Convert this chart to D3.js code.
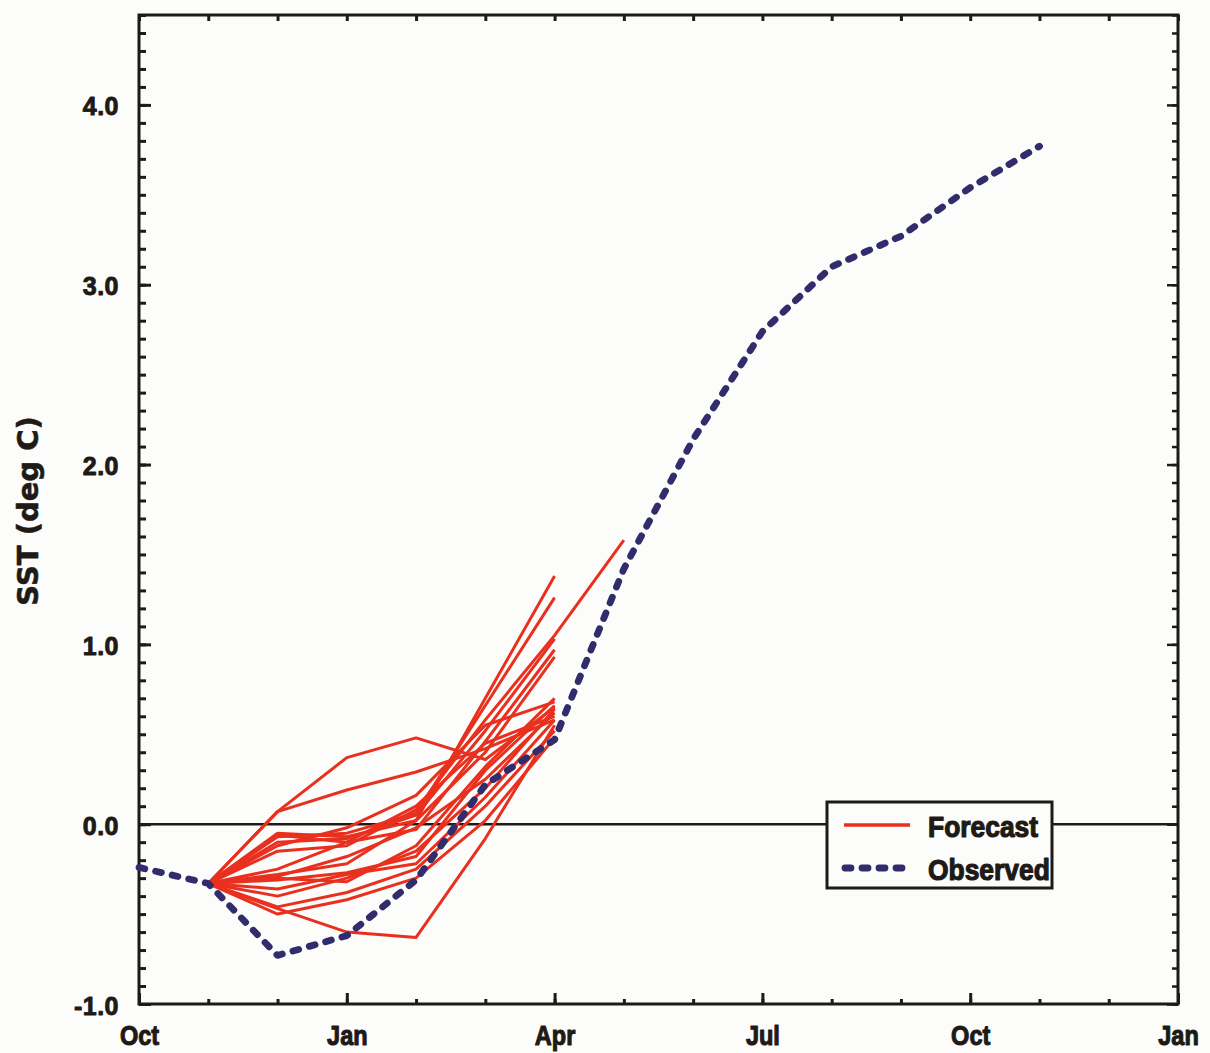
<!DOCTYPE html>
<html>
<head>
<meta charset="utf-8">
<script src="https://cdn.jsdelivr.net/npm/d3@7"></script>
<style>
  html, body { margin: 0; padding: 0; background: #fcfcfa; }
  svg { display: block; }
</style>
</head>
<body>
<svg id="chart" width="1210" height="1053"></svg>
<script>
// Months counted from the first October (0) to the January 15 months later.
const monthTicks = d3.range(0, 16);
const labelMonths = [0, 3, 6, 9, 12, 15];
const monthLabels = ["Oct", "Jan", "Apr", "Jul", "Oct", "Jan"];
const yMajorTicks = [-1, 0, 1, 2, 3, 4];
const yTickLabels = ["-1.0", "0.0", "1.0", "2.0", "3.0", "4.0"];

// Observed SST anomaly, monthly (Oct .. Nov of the following year)
const observedMonths = [0, 1, 2, 3, 4, 5, 6, 7, 8, 9, 10, 11, 12, 13];
const observedSST = [-0.24, -0.33, -0.73, -0.62, -0.31, 0.22, 0.47, 1.42, 2.14, 2.74, 3.10, 3.27, 3.54, 3.77];

// Forecast runs, all launched from the November observation
const forecastMonths = [1, 2, 3, 4, 5, 6, 7];
const forecastRuns = [
  [-0.33,  0.07,  0.37,  0.48,  0.36, 0.65],
  [-0.33,  0.07,  0.19,  0.29,  0.42, 0.58],
  [-0.33, -0.05, -0.07,  0.02,  0.70, 1.38],
  [-0.33, -0.07, -0.05,  0.06,  0.66, 1.26],
  [-0.33, -0.10, -0.08,  0.05,  0.52, 1.03],
  [-0.33, -0.06, -0.10, -0.03,  0.46, 0.97],
  [-0.33, -0.15, -0.12,  0.08,  0.58, 1.05, 1.58],
  [-0.33, -0.28, -0.22,  0.02,  0.40, 0.93],
  [-0.33, -0.30, -0.32, -0.12,  0.32, 0.70],
  [-0.33, -0.31, -0.27, -0.18,  0.30, 0.66],
  [-0.33, -0.29, -0.18, -0.02,  0.25, 0.62],
  [-0.33, -0.36, -0.28, -0.22,  0.15, 0.58],
  [-0.33, -0.46, -0.38, -0.25,  0.10, 0.52],
  [-0.33, -0.50, -0.42, -0.30,  0.02, 0.48],
  [-0.33, -0.47, -0.60, -0.63, -0.08, 0.55],
  [-0.33, -0.12, -0.02,  0.16,  0.55, 0.68],
  [-0.33, -0.25, -0.10,  0.10,  0.45, 0.60],
  [-0.33, -0.40, -0.30, -0.15,  0.20, 0.64]
];

const legendItems = ["Forecast", "Observed"];

const margin = { left: 139, top: 15, right: 32, bottom: 49 };
const W = 1210, H = 1053;
const iw = W - margin.left - margin.right;
const ih = H - margin.top - margin.bottom;

const ink = "#1e1a15";
const red = "#e9301f";
const navy = "#312c6c";
const sansBold = "'Liberation Sans', Arial, sans-serif";

// squeeze a text node horizontally to mimic a condensed face
function condense(sel, factor) {
  sel.each(function () {
    const len = this.getComputedTextLength();
    d3.select(this)
      .attr("textLength", len * factor)
      .attr("lengthAdjust", "spacingAndGlyphs");
  });
}

// heavy print-style lettering
function heavy(sel, w) {
  sel.attr("stroke", ink).attr("stroke-width", w).attr("stroke-linejoin", "round");
}

const svg = d3.select("#chart");
const g = svg.append("g").attr("transform", `translate(${margin.left},${margin.top})`);

const x = d3.scaleLinear().domain([0, 15]).range([0, iw]);
const y = d3.scaleLinear().domain([-1, 4.5]).range([ih, 0]);

const yMinor = d3.range(-10, 46).map(v => v / 10);

function styleTicks(sel, width) {
  sel.select(".domain").remove();
  sel.selectAll(".tick line").attr("stroke", ink).attr("stroke-width", width);
}

// left axis: minor ticks, then labelled majors
g.append("g").call(d3.axisLeft(y).tickValues(yMinor).tickSize(-7).tickFormat(""))
  .call(s => styleTicks(s, 3));
g.append("g").call(d3.axisLeft(y).tickValues(yMajorTicks).tickSize(-12).tickPadding(20)
    .tickFormat((d, i) => yTickLabels[i]))
  .call(s => styleTicks(s, 3))
  .call(s => s.selectAll(".tick text")
    .attr("fill", ink)
    .attr("font-family", sansBold)
    .attr("font-weight", "bold")
    .attr("font-size", 25)
    .attr("letter-spacing", 0.5)
    .attr("dy", "0.4em")
    .call(t => heavy(t, 0.9)));

// right axis mirrors the minor/major ticks
g.append("g").attr("transform", `translate(${iw},0)`)
  .call(d3.axisRight(y).tickValues(yMinor).tickSize(-6).tickFormat(""))
  .call(s => styleTicks(s, 2.5));
g.append("g").attr("transform", `translate(${iw},0)`)
  .call(d3.axisRight(y).tickValues(yMajorTicks).tickSize(-11).tickFormat(""))
  .call(s => styleTicks(s, 2.5));

// bottom axis: monthly ticks, longer at the labelled quarters
g.append("g").attr("transform", `translate(0,${ih})`)
  .call(d3.axisBottom(x).tickValues(monthTicks).tickSize(-5).tickFormat(""))
  .call(s => styleTicks(s, 3));
g.append("g").attr("transform", `translate(0,${ih})`)
  .call(d3.axisBottom(x).tickValues(labelMonths).tickSize(-11).tickPadding(21)
    .tickFormat((d, i) => monthLabels[i]))
  .call(s => styleTicks(s, 3))
  .call(s => s.selectAll(".tick text")
    .attr("fill", ink)
    .attr("font-family", sansBold)
    .attr("font-weight", "bold")
    .attr("font-size", 28)
    .call(t => heavy(t, 1.1))
    .call(t => condense(t, 0.84)));

// top axis
g.append("g")
  .call(d3.axisTop(x).tickValues(monthTicks).tickSize(-6).tickFormat(""))
  .call(s => styleTicks(s, 3));

// plot frame
g.append("rect")
  .attr("x", 0).attr("y", 0).attr("width", iw).attr("height", ih)
  .attr("fill", "none").attr("stroke", ink).attr("stroke-width", 3);

// zero reference line
g.append("line")
  .attr("x1", 0).attr("x2", iw)
  .attr("y1", y(0)).attr("y2", y(0))
  .attr("stroke", ink).attr("stroke-width", 2.6);

const line = d3.line().x(d => x(d[0])).y(d => y(d[1]));

// forecast spaghetti
g.append("g").selectAll("path")
  .data(forecastRuns)
  .join("path")
  .attr("d", run => line(run.map((v, i) => [forecastMonths[i], v])))
  .attr("fill", "none")
  .attr("stroke", red)
  .attr("stroke-width", 3)
  .attr("stroke-linejoin", "round");

// observed series
g.append("path")
  .attr("d", line(observedSST.map((v, i) => [observedMonths[i], v])))
  .attr("fill", "none")
  .attr("stroke", navy)
  .attr("stroke-width", 6.8)
  .attr("stroke-dasharray", "6 11")
  .attr("stroke-linecap", "round")
  .attr("stroke-linejoin", "round");

// y-axis title
svg.append("text")
  .attr("transform", "translate(38,511) rotate(-90)")
  .attr("text-anchor", "middle")
  .attr("fill", ink)
  .attr("font-family", "'DejaVu Sans', sans-serif")
  .attr("font-weight", "bold")
  .attr("font-size", 29)
  .text("SST (deg C)")
  .call(t => heavy(t, 0.6));

// legend
const lg = svg.append("g").attr("transform", "translate(827,802)");
lg.append("rect")
  .attr("width", 225).attr("height", 86)
  .attr("fill", "#fcfcfa").attr("stroke", ink).attr("stroke-width", 3);
const rows = lg.selectAll("g.row").data(legendItems).join("g")
  .attr("class", "row")
  .attr("transform", (d, i) => `translate(0,${23 + i * 43})`);
rows.append("line")
  .attr("x1", d => d === "Forecast" ? 17 : 18)
  .attr("x2", d => d === "Forecast" ? 83 : 84)
  .attr("y1", 0).attr("y2", 0)
  .attr("stroke", d => d === "Forecast" ? red : navy)
  .attr("stroke-width", d => d === "Forecast" ? 3.5 : 6.8)
  .attr("stroke-dasharray", d => d === "Forecast" ? null : "6 11")
  .attr("stroke-linecap", d => d === "Forecast" ? "butt" : "round");
rows.append("text")
  .attr("x", 101).attr("y", 12)
  .attr("fill", ink)
  .attr("font-family", sansBold)
  .attr("font-weight", "bold")
  .attr("font-size", 30)
  .text(d => d)
  .call(t => heavy(t, 1.2))
  .call(t => condense(t, 0.88));
</script>
</body>
</html>
